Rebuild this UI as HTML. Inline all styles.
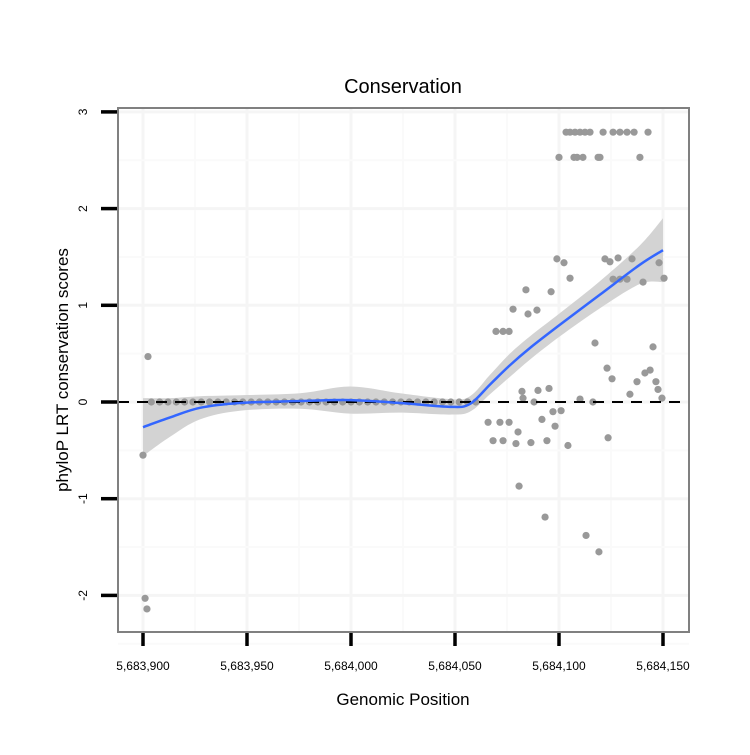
<!DOCTYPE html>
<html><head><meta charset="utf-8"><style>
body{margin:0;background:#fff;font-family:"Liberation Sans",sans-serif}
</style></head><body>
<svg id="chart" width="750" height="750" xmlns="http://www.w3.org/2000/svg" font-family="Liberation Sans, sans-serif">
<rect width="750" height="750" fill="#fff"/>
<g id="grid"></g>
<g id="band"></g>
<g id="pts"></g>
<g id="lines"></g>
<rect x="118" y="108" width="571" height="524" fill="none" stroke="#808080" stroke-width="2"/>
<g id="axes"></g>
<text x="403" y="93" text-anchor="middle" font-size="20">Conservation</text>
<text x="403" y="705" text-anchor="middle" font-size="17">Genomic Position</text>
<text transform="translate(68,370) rotate(-90)" text-anchor="middle" font-size="17">phyloP LRT conservation scores</text>
</svg>
<script>
const X0 = 5683900;
const xTicks = [5683900, 5683950, 5684000, 5684050, 5684100, 5684150];
const xTickLabels = ["5,683,900","5,683,950","5,684,000","5,684,050","5,684,100","5,684,150"];
const yTicks = [-2, -1, 0, 1, 2, 3];
const yTickLabels = ["-2","-1","0","1","2","3"];
const ptX = [0,1,1.9,2.4,
 4,8,12,16,20,24,28,32,36,40,44,48,52,56,60,64,68,72,76,80,84,88,92,96,100,104,108,112,116,120,124,128,132,136,140,144,148,152,156,160,
 203.4,205.3,207.7,210.1,212.5,214.9,221.2,226,229.3,232.7,236.1,242.8,
 200,207.2,208.7,211.5,218.8,219.7,238.9,
 199,202.4,205.3,184.1,196.2,177.9,185.1,189.4,222.1,224.5,228.4,235.1,248.1,226,229.3,232.7,240.4,250.5,
 169.7,173.1,176,217.3,245.2,223.1,225.5,243.8,241.3,237.5,246.6,247.6,249.5,234.1,182.2,189.9,195.2,182.7,188,210.1,216.3,
 197.1,201,191.8,198.1,180.3,165.9,171.6,176,168.3,173.1,179.3,186.5,194.2,204.3,223.6,180.8,193.3,213,219.2];
const ptY = [-0.55,-2.03,-2.14,0.47,
 0,0,0,0,0,0,0,0,0,0,0,0,0,0,0,0,0,0,0,0,0,0,0,0,0,0,0,0,0,0,0,0,0,0,0,0,0,0,0,0,
 2.79,2.79,2.79,2.79,2.79,2.79,2.79,2.79,2.79,2.79,2.79,2.79,
 2.53,2.53,2.53,2.53,2.53,2.53,2.53,
 1.48,1.44,1.28,1.16,1.14,0.96,0.91,0.95,1.48,1.45,1.49,1.48,1.44,1.27,1.27,1.27,1.24,1.28,
 0.73,0.73,0.73,0.61,0.57,0.35,0.24,0.33,0.30,0.21,0.21,0.13,0.04,0.08,0.11,0.12,0.14,0.04,0,0.03,0,
 -0.10,-0.09,-0.18,-0.25,-0.31,-0.21,-0.21,-0.21,-0.40,-0.40,-0.43,-0.42,-0.40,-0.45,-0.37,-0.87,-1.19,-1.38,-1.55];
const fitX = [0,13,27.4,46.6,75.5,99.5,123.6,147.6,157.2,166.8,176.4,186.1,200.5,219.7,238.9,250];
const fitY = [-0.26,-0.16,-0.06,-0.01,0.01,0.02,-0.01,-0.05,-0.02,0.18,0.38,0.56,0.80,1.11,1.42,1.57];
const fitSE = [0.3,0.2,0.12,0.08,0.08,0.14,0.1,0.08,0.08,0.1,0.12,0.12,0.12,0.14,0.2,0.33];

const NS="http://www.w3.org/2000/svg";
const sx = v => 143 + (v - X0) * 2.08;
const sxo = o => 143 + o * 2.08;
const sy = v => 402 - v * 96.7;
function mk(tag, attrs, parent){const e=document.createElementNS(NS,tag);for(const k in attrs)e.setAttribute(k,attrs[k]);parent.appendChild(e);return e;}
function smooth(P, start){
  let d=(start?'M':'L')+P[0][0]+','+P[0][1];
  for(let i=0;i<P.length-1;i++){
    const p0=P[Math.max(i-1,0)],p1=P[i],p2=P[i+1],p3=P[Math.min(i+2,P.length-1)];
    const c1=[p1[0]+(p2[0]-p0[0])/6,p1[1]+(p2[1]-p0[1])/6];
    const c2=[p2[0]-(p3[0]-p1[0])/6,p2[1]-(p3[1]-p1[1])/6];
    d+='C'+c1[0]+','+c1[1]+' '+c2[0]+','+c2[1]+' '+p2[0]+','+p2[1];
  }
  return d;
}
const grid=document.getElementById('grid');
for(let i=0;i<xTicks.length;i++){
  const x=sx(xTicks[i]);
  const l=mk('line',{x1:x,x2:x,y1:108,y2:632,stroke:'#f5f5f5','stroke-width':3},grid);
  
  
  if(i<xTicks.length-1){const xm=sx(xTicks[i]+25);
    const m=mk('line',{x1:xm,x2:xm,y1:108,y2:632,stroke:'#fafafa','stroke-width':2},grid);
    
    }
}
for(let i=0;i<yTicks.length;i++){
  const y=sy(yTicks[i]);
  const l=mk('line',{x1:118,x2:689,y1:y,y2:y,stroke:'#f5f5f5','stroke-width':3},grid);
  
  
  const ym=sy(yTicks[i]-0.5);
  const m=mk('line',{x1:118,x2:689,y1:ym,y2:ym,stroke:'#fafafa','stroke-width':2},grid);
  
  
}
const up=fitX.map((x,i)=>[sxo(x),sy(fitY[i]+fitSE[i])]);
const lo=fitX.map((x,i)=>[sxo(x),sy(fitY[i]-fitSE[i])]).reverse();
const band=mk('path',{d:smooth(up,true)+smooth(lo,false)+'Z',fill:'#d3d3d3'},document.getElementById('band'));


const pts=document.getElementById('pts');
for(let i=0;i<ptX.length;i++){
  const c=mk('circle',{cx:sxo(ptX[i]),cy:sy(ptY[i]),r:3.6,fill:'#999'},pts);
  
  
}
const lines=document.getElementById('lines');
const zl=mk('line',{x1:118,x2:689,y1:sy(0),y2:sy(0),stroke:'#000','stroke-width':2,'stroke-dasharray':'11 8'},lines);


const fp=fitX.map((x,i)=>[sxo(x),sy(fitY[i])]);
const fl=mk('path',{d:smooth(fp,true),fill:'none',stroke:'#3366ff','stroke-width':2.5,'stroke-linejoin':'round'},lines);


const axes=document.getElementById('axes');
for(let i=0;i<xTicks.length;i++){
  const x=sx(xTicks[i]);
  const t=mk('line',{x1:x,x2:x,y1:633,y2:646,stroke:'#000','stroke-width':3.5},axes);
  
  
  const tx=mk('text',{x:x,y:670,'text-anchor':'middle','font-size':12},axes);
  tx.textContent=xTickLabels[i];
  
  
}
for(let i=0;i<yTicks.length;i++){
  const y=sy(yTicks[i]);
  const t=mk('line',{x1:101,x2:117,y1:y,y2:y,stroke:'#000','stroke-width':3.5},axes);
  
  
  const tx=mk('text',{transform:'translate(87,'+y+') rotate(-90)','text-anchor':'middle','font-size':12},axes);
  tx.textContent=yTickLabels[i];
  
  
}
</script>
</body></html>
